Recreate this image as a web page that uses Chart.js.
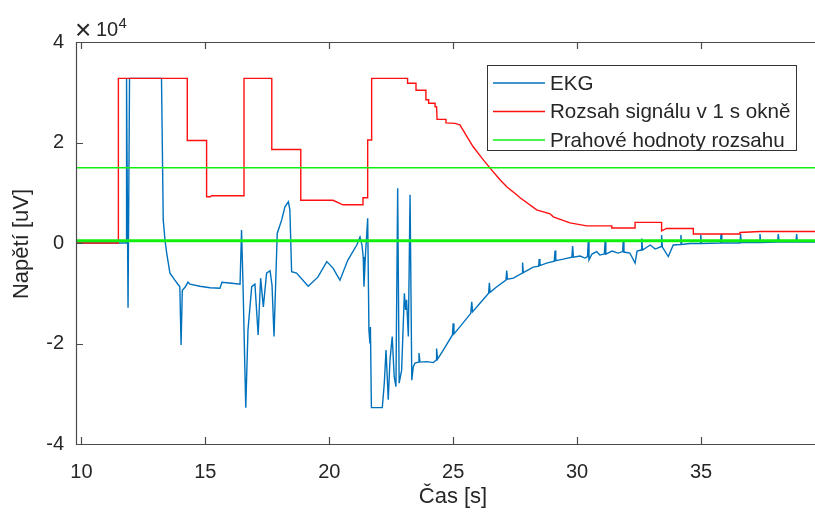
<!DOCTYPE html>
<html>
<head>
<meta charset="utf-8">
<script src="https://cdn.jsdelivr.net/npm/chart.js@4.4.0/dist/chart.umd.min.js"></script>
<style>
  body { margin: 0; background: #fff; overflow: hidden; }
  #wrap { width: 815px; height: 519px; }
</style>
</head>
<body>
<div id="wrap"><canvas id="ekg_canvas" width="815" height="519"></canvas></div>
<script>
// EKG record, [time s, value uV]
var ekgSamples = [
    [9.7, 0], [11.80, 0], [11.82, 32767], [11.88, -12900], [11.94, 32767], [13.23, 32767],
    [13.30, 4600], [13.37, 600], [13.44, -2000], [13.57, -6000], [13.77, -7400], [13.89, -8200],
    [13.97, -8700], [14.02, -20300], [14.07, -9400], [14.18, -8800], [14.30, -7800], [14.38, -8200],
    [14.78, -8600], [15.19, -8900], [15.59, -9000], [15.67, -7800], [16.07, -8000], [16.40, -8200],
    [16.46, 2600], [16.52, -8400], [16.63, -32767], [16.72, -17300], [16.87, -8700], [17.00, -8200],
    [17.13, -18300], [17.23, -7000], [17.34, -12700], [17.47, -6000], [17.61, -5500], [17.69, -8400],
    [17.77, -18600], [17.90, 1900], [18.08, 4600], [18.21, 7200], [18.35, 8200], [18.41, 6600],
    [18.48, -5700], [18.68, -6000], [19.15, -8600], [19.54, -6800], [19.90, -3700], [20.15, -5000],
    [20.43, -7400], [20.75, -3400], [21.11, -400], [21.24, 1200], [21.32, -400], [21.37, -2800],
    [21.40, -8700], [21.46, -2400], [21.55, 4900], [21.60, -17300], [21.64, -20000], [21.66, -16700],
    [21.70, -32767], [22.14, -32767], [22.22, -27900], [22.29, -21300], [22.38, -31200], [22.45, -23300],
    [22.54, -18600], [22.62, -26600], [22.69, -28600], [22.76, 10900], [22.82, -27900], [22.92, -25300],
    [23.03, -10000], [23.08, -13300], [23.12, -11300], [23.19, -18600], [23.26, 9600], [23.33, -27300],
    [23.39, -24600], [23.46, -23900], [23.59, -23700], [23.62, -21900], [23.66, -23700], [23.93, -23600],
    [24.20, -23800], [24.31, -23300], [24.33, -21000], [24.37, -23100], [24.60, -21300], [24.97, -18300],
    [25.00, -16000], [25.03, -18100], [25.27, -16700], [25.71, -14000], [25.75, -11700], [25.78, -13700],
    [26.08, -12000], [26.43, -10000], [26.46, -7900], [26.49, -9800], [26.76, -8700], [27.13, -7400],
    [27.16, -5500], [27.19, -7200], [27.43, -7000], [27.78, -6000], [27.80, -3900], [27.83, -5900],
    [28.23, -4800], [28.45, -4600], [28.47, -3200], [28.50, -4500], [28.77, -4000], [29.08, -3600],
    [29.11, -1500], [29.14, -3500], [29.44, -3200], [29.79, -2800], [29.82, -600], [29.85, -2800],
    [30.12, -2600], [30.32, -3000], [30.42, -2700], [30.45, 300], [30.48, -3400], [30.60, -2200],
    [30.79, -1700], [30.92, -2400], [31.10, -2200], [31.13, 300], [31.16, -2200], [31.41, -1600],
    [31.65, -2000], [31.84, -1700], [31.86, 300], [31.89, -1800], [32.13, -2000], [32.34, -4000],
    [32.42, -1600], [32.58, -1400], [32.61, 900], [32.64, -1400], [32.95, -400], [33.15, -1200],
    [33.40, -700], [33.41, 1600], [33.44, -800], [33.68, -2700], [33.88, -400], [34.17, -300],
    [34.19, 1600], [34.22, -300], [34.56, -100], [34.96, -100], [34.99, 1600], [35.02, -100],
    [35.78, 0], [35.81, 1800], [35.84, 0], [36.57, 0], [36.60, 1800], [36.62, 100],
    [37.35, 100], [37.38, 1800], [37.41, 100], [38.09, 200], [38.12, 1800], [38.15, 200],
    [38.83, 200], [38.86, 1800], [38.89, 200], [39.8, 200]
];

// max-min range in a sliding 1 s window
var rangeSamples = [
    [9.7, 0], [11.49, 0], [11.49, 32767], [14.27, 32767], [14.27, 20400], [15.05, 20400],
    [15.05, 9200], [15.20, 9200], [15.25, 9400], [16.56, 9400], [16.56, 32767], [17.68, 32767],
    [17.68, 18600], [18.85, 18600], [18.85, 8500], [20.15, 8500], [20.55, 7600], [21.36, 7600],
    [21.36, 9000], [21.55, 9000], [21.55, 20500], [21.71, 20500], [21.71, 32767], [23.16, 32767],
    [23.16, 31800], [23.50, 31800], [23.50, 30400], [23.90, 30400], [23.90, 28500], [24.01, 28500],
    [24.01, 27800], [24.27, 27800], [24.27, 27100], [24.33, 27100], [24.35, 24600], [24.71, 24600],
    [24.71, 23900], [25.07, 23800], [25.27, 23500], [25.80, 19200], [26.16, 16900], [26.49, 14900],
    [26.89, 12600], [27.16, 11200], [27.56, 9600], [27.70, 9000], [28.37, 6600], [28.91, 5800],
    [29.04, 5200], [29.71, 4000], [30.39, 3400], [31.40, 3400], [31.40, 3000], [32.34, 3000],
    [32.34, 4100], [33.41, 4100], [33.41, 2400], [33.61, 2900], [34.69, 2900], [34.69, 1800],
    [36.57, 1800], [36.57, 2100], [37.38, 2300], [39.8, 2300]
];

var thresholdValues = [15000, 600, 300];

var xTicks = [10, 15, 20, 25, 30, 35];
var yTicks = [-40000, -20000, 0, 20000, 40000];
var xMin = 9.78, xMax = 39.6;

var seriesLabels = ['EKG', 'Rozsah signálu v 1 s okně', 'Prahové hodnoty rozsahu'];
var seriesColors = ['#0072bd', '#ff1010', '#10f010'];

var fontFamily = '"Liberation Sans", Arial, Helvetica, sans-serif';
var textColor = '#262626';

function toPoints(rows) {
    return rows.map(function(r) { return { x: r[0], y: r[1] }; });
}

// every threshold is a horizontal line, null points keep them apart
var thresholdPoints = [];
thresholdValues.forEach(function(v) {
    thresholdPoints.push({ x: xMin - 1, y: v });
    thresholdPoints.push({ x: xMax + 1, y: v });
    thresholdPoints.push({ x: xMax + 1, y: null });
});

// box, inward ticks, exponent, axis labels and legend
var axesDecor = {
    id: 'axesDecor',
    afterDraw: function(chart) {
        var ctx = chart.ctx;
        var area = chart.chartArea;
        var xs = chart.scales.x, ys = chart.scales.y;
        ctx.save();

        ctx.strokeStyle = '#4a4a4a';
        ctx.lineWidth = 1.2;
        ctx.beginPath();
        ctx.moveTo(area.left + 0.5, area.top);
        ctx.lineTo(area.left + 0.5, area.bottom + 1);
        ctx.moveTo(area.left, area.top + 0.5);
        ctx.lineTo(area.right, area.top + 0.5);
        ctx.moveTo(area.left, area.bottom + 0.5);
        ctx.lineTo(area.right, area.bottom + 0.5);
        xTicks.forEach(function(v) {
            var px = Math.round(xs.getPixelForValue(v)) + 0.5;
            ctx.moveTo(px, area.bottom);
            ctx.lineTo(px, area.bottom - 7);
            ctx.moveTo(px, area.top);
            ctx.lineTo(px, area.top + 7);
        });
        yTicks.forEach(function(v) {
            var py = Math.round(ys.getPixelForValue(v)) + 0.5;
            ctx.moveTo(area.left, py);
            ctx.lineTo(area.left + 7, py);
        });
        ctx.stroke();

        // exponent of the y axis
        ctx.fillStyle = textColor;
        ctx.textBaseline = 'alphabetic';
        ctx.textAlign = 'left';
        ctx.font = '28px ' + fontFamily;
        ctx.fillText('\u00d7', 75, 39);
        ctx.font = '20px ' + fontFamily;
        ctx.fillText('10', 96, 35.5);
        ctx.font = '15px ' + fontFamily;
        ctx.fillText('4', 118.5, 28);

        ctx.font = '22px ' + fontFamily;
        ctx.textAlign = 'center';
        ctx.textBaseline = 'middle';
        ctx.fillText('\u010cas [s]', 453, 497);
        ctx.save();
        ctx.translate(22, 244);
        ctx.rotate(-Math.PI / 2);
        ctx.fillText('Nap\u011bt\u00ed [uV]', 0, 0);
        ctx.restore();

        var box = { left: 487, top: 65, width: 309, height: 85 };
        ctx.fillStyle = '#fff';
        ctx.fillRect(box.left, box.top, box.width, box.height);
        ctx.strokeStyle = '#333';
        ctx.lineWidth = 1;
        ctx.strokeRect(box.left + 0.5, box.top + 0.5, box.width, box.height);
        ctx.font = '20.6px ' + fontFamily;
        ctx.textAlign = 'left';
        seriesLabels.forEach(function(lbl, i) {
            var ry = box.top + 18 + i * 28.5;
            ctx.strokeStyle = seriesColors[i];
            ctx.lineWidth = 1.5;
            ctx.beginPath();
            ctx.moveTo(493, ry);
            ctx.lineTo(545, ry);
            ctx.stroke();
            ctx.fillStyle = textColor;
            ctx.fillText(lbl, 550, ry + 1);
        });
        ctx.restore();
    }
};

new Chart(document.getElementById('ekg_canvas'), {
    type: 'line',
    data: {
        datasets: [
            { label: seriesLabels[0], data: toPoints(ekgSamples), borderColor: seriesColors[0],
              borderWidth: 1.4, pointRadius: 0, tension: 0, order: 3 },
            { label: seriesLabels[1], data: toPoints(rangeSamples), borderColor: seriesColors[1],
              borderWidth: 1.4, pointRadius: 0, tension: 0, order: 2 },
            { label: seriesLabels[2], data: thresholdPoints, borderColor: seriesColors[2],
              borderWidth: 1.5, pointRadius: 0, tension: 0, spanGaps: false, order: 1 }
        ]
    },
    options: {
        responsive: false,
        animation: false,
        events: [],
        layout: { padding: { top: 42, right: 0, left: 0, bottom: 0 } },
        plugins: { legend: { display: false }, tooltip: { enabled: false } },
        scales: {
            x: {
                type: 'linear',
                min: xMin,
                max: xMax,
                grid: { display: false, drawTicks: false },
                border: { display: false },
                afterBuildTicks: function(scale) {
                    scale.ticks = xTicks.map(function(v) { return { value: v }; });
                },
                afterFit: function(scale) { scale.height = 75; },
                ticks: {
                    color: textColor,
                    padding: 16,
                    maxRotation: 0,
                    font: { family: fontFamily, size: 20 },
                    callback: function(v) { return String(v); }
                }
            },
            y: {
                type: 'linear',
                min: -40000,
                max: 40000,
                grid: { display: false, drawTicks: false },
                border: { display: false },
                afterBuildTicks: function(scale) {
                    scale.ticks = yTicks.map(function(v) { return { value: v }; });
                },
                afterFit: function(scale) { scale.width = 76; },
                ticks: {
                    color: textColor,
                    padding: 12,
                    font: { family: fontFamily, size: 20 },
                    callback: function(v) { return String(v / 10000); }
                }
            }
        }
    },
    plugins: [axesDecor]
});
</script>
</body>
</html>
